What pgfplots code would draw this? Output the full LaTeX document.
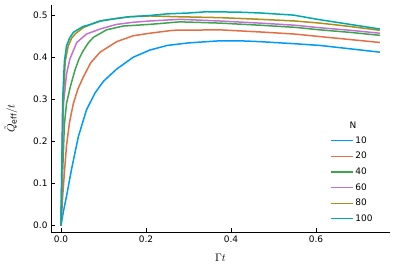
\documentclass[border=0pt]{standalone}
\usepackage{pgfplots}
\pgfplotsset{compat=1.18}
\usepackage{fontspec}
\setmainfont{DejaVu Sans}
\definecolor{c1}{RGB}{0,154,250}
\definecolor{c2}{RGB}{227,111,71}
\definecolor{c3}{RGB}{62,164,78}
\definecolor{c4}{RGB}{195,113,210}
\definecolor{c5}{RGB}{172,142,24}
\definecolor{c6}{RGB}{0,169,173}
\begin{document}
\begin{tikzpicture}
\path[use as bounding box] (-51bp,-43bp) rectangle (343bp,232bp);
\begin{axis}[
  scale only axis, width=339bp, height=227bp,
  xmin=-0.0235, xmax=0.774, ymin=-0.015, ymax=0.524,
  axis lines=left, axis line style={-, line width=0.9bp},
  tick align=inside, major tick length=4bp,
  tick style={black, line width=0.6bp},
  xtick={0,0.2,0.4,0.6}, ytick={0,0.1,0.2,0.3,0.4,0.5},
  /pgf/number format/assume math mode=true,
  xticklabel style={/pgf/number format/fixed, /pgf/number format/fixed zerofill, /pgf/number format/precision=1, font=\fontsize{9}{10}\selectfont},
  yticklabel style={/pgf/number format/fixed, /pgf/number format/fixed zerofill, /pgf/number format/precision=1, font=\fontsize{9}{10}\selectfont},
  xlabel={$\Gamma t$}, ylabel={$\tilde{Q}_{\mathrm{eff}}/t$},
  label style={font=\fontsize{11}{12}\selectfont},
  xlabel style={yshift=-5bp},
  ylabel style={yshift=9bp},
  legend style={draw=none, fill=none, at={(rel axis cs:0.823,0.43)}, anchor=north west,
    font=\fontsize{9}{10}\selectfont, row sep=3.5bp, inner sep=0pt},
  legend cell align=left,
  legend image code/.code={\draw[mark repeat=2,mark phase=2,#1] plot coordinates {(0bp,0bp) (11bp,0bp) (22bp,0bp)};},
  legend image post style={line width=1.3bp},
  every axis plot/.append style={line width=1.5bp, line join=round},
]
\addplot[c1] coordinates {(0,0) (0.005,0.03) (0.013,0.07) (0.025,0.135) (0.041,0.212) (0.06,0.275) (0.08,0.315) (0.1,0.343) (0.131,0.372) (0.17,0.40) (0.209,0.417) (0.25,0.428) (0.3,0.434) (0.374,0.439) (0.42,0.439) (0.468,0.437) (0.55,0.432) (0.609,0.428) (0.68,0.42) (0.75,0.412)};
\addlegendentry{10}
\addplot[c2] coordinates {(0,0) (0.004,0.07) (0.009,0.139) (0.013,0.19) (0.02,0.245) (0.029,0.29) (0.04,0.325) (0.052,0.352) (0.07,0.387) (0.092,0.412) (0.131,0.437) (0.17,0.451) (0.209,0.457) (0.264,0.464) (0.374,0.465) (0.468,0.46) (0.55,0.455) (0.609,0.449) (0.68,0.442) (0.75,0.435)};
\addlegendentry{20}
\addplot[c3] coordinates {(0,0) (0.004,0.13) (0.008,0.24) (0.013,0.29) (0.022,0.33) (0.033,0.37) (0.042,0.395) (0.052,0.415) (0.065,0.435) (0.076,0.447) (0.107,0.465) (0.146,0.474) (0.209,0.478) (0.28,0.484) (0.374,0.481) (0.468,0.476) (0.55,0.471) (0.609,0.465) (0.68,0.459) (0.75,0.452)};
\addlegendentry{40}
\addplot[c4] coordinates {(0,0) (0.003,0.15) (0.006,0.29) (0.013,0.36) (0.021,0.396) (0.037,0.435) (0.06,0.455) (0.092,0.467) (0.131,0.478) (0.17,0.483) (0.209,0.486) (0.28,0.49) (0.374,0.486) (0.468,0.481) (0.55,0.476) (0.609,0.47) (0.68,0.464) (0.75,0.457)};
\addlegendentry{60}
\addplot[c5] coordinates {(0,0) (0.002,0.14) (0.005,0.29) (0.01,0.39) (0.017,0.427) (0.025,0.445) (0.033,0.455) (0.052,0.47) (0.07,0.478) (0.092,0.486) (0.131,0.492) (0.16,0.496) (0.209,0.498) (0.28,0.496) (0.374,0.494) (0.468,0.49) (0.55,0.486) (0.609,0.481) (0.68,0.473) (0.75,0.464)};
\addlegendentry{80}
\addplot[c6] coordinates {(0,0) (0.002,0.15) (0.004,0.30) (0.008,0.39) (0.013,0.427) (0.02,0.445) (0.029,0.459) (0.04,0.466) (0.052,0.473) (0.07,0.478) (0.092,0.486) (0.13,0.492) (0.16,0.496) (0.209,0.499) (0.25,0.503) (0.3,0.505) (0.343,0.508) (0.42,0.507) (0.47,0.505) (0.547,0.50) (0.609,0.489) (0.68,0.478) (0.75,0.467)};
\addlegendentry{100}
\node[font=\fontsize{9}{10}\selectfont] at (rel axis cs:0.891,0.471) {N};
\end{axis}
\end{tikzpicture}
\end{document}
